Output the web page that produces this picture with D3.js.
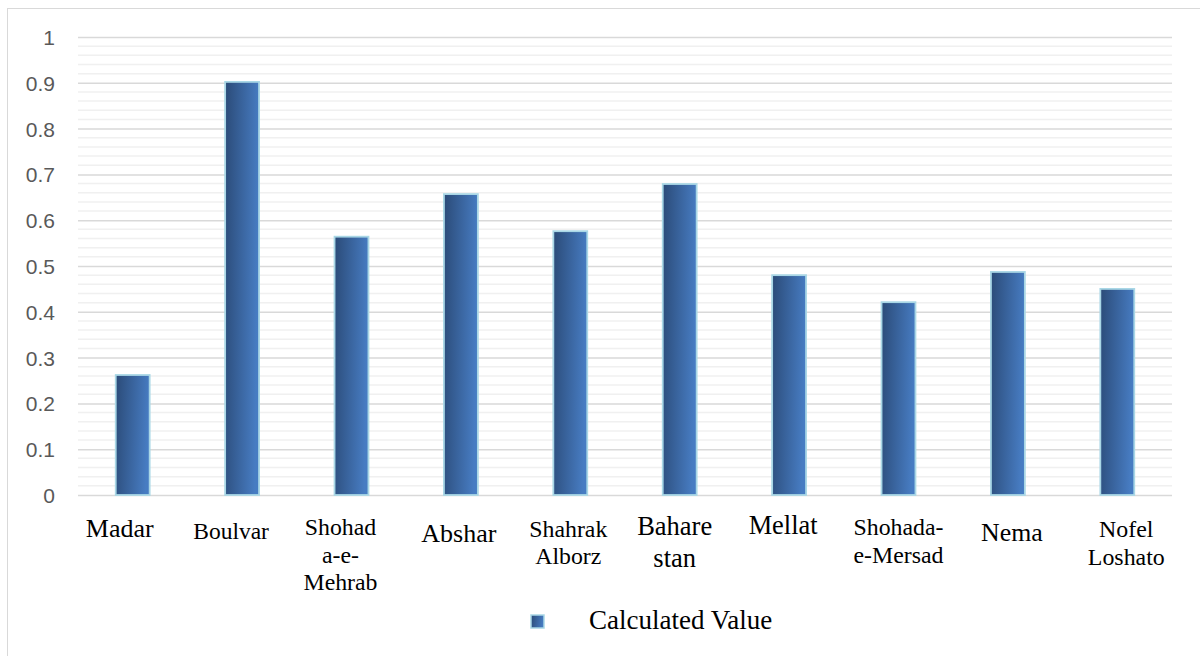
<!DOCTYPE html>
<html>
<head>
<meta charset="utf-8">
<script src="https://cdn.jsdelivr.net/npm/d3@7"></script>
<style>
  body { margin: 0; background: #fff; }
  svg { display: block; }
</style>
</head>
<body>
<div id="chart"></div>
<script>
// data
const categories = ["Madar", "Boulvar", "Shohad\na-e-\nMehrab", "Abshar", "Shahrak\nAlborz",
  "Bahare\nstan", "Mellat", "Shohada-\ne-Mersad", "Nema", "Nofel\nLoshato"]
const values = [0.262, 0.902, 0.564, 0.657, 0.576, 0.679, 0.480, 0.421, 0.487, 0.450]
const yTicks = [0, 0.1, 0.2, 0.3, 0.4, 0.5, 0.6, 0.7, 0.8, 0.9, 1]
const seriesName = "Calculated Value"

// the category labels in the reference sit unevenly: x shift from the bar centre,
// first baseline, font size and line gap for each one
const labelLayout = [
  {dx: -13, y: 537, size: 26,   gap: 28},
  {dx: -11, y: 539, size: 23.5, gap: 28},
  {dx: -11, y: 535, size: 23.8, gap: 27.5},
  {dx: -2,  y: 542, size: 26,   gap: 28},
  {dx: -2,  y: 537, size: 23.8, gap: 27},
  {dx: -5,  y: 535, size: 26.5, gap: 32},
  {dx: -6,  y: 534, size: 26.4, gap: 28},
  {dx: 0,   y: 535, size: 23.8, gap: 28},
  {dx: 4,   y: 541, size: 25.8, gap: 28},
  {dx: 9,   y: 537, size: 23.9, gap: 28}
]

var W = 1200, H = 656
var margin = {top: 37, right: 28, bottom: 161, left: 78},
    width = W - margin.left - margin.right,
    height = H - margin.top - margin.bottom

var svg = d3.select("#chart").append("svg")
  .attr("width", W)
  .attr("height", H)

// chart frame
svg.append("rect")
  .attr("x", 7.5).attr("y", 8.5)
  .attr("width", W + 10).attr("height", H + 10)
  .attr("fill", "#fff")
  .attr("stroke", "#d9d9d9")
  .attr("stroke-width", 1)

var defs = svg.append("defs")
var grad = defs.append("linearGradient")
  .attr("id", "barGrad")
  .attr("x1", 0).attr("y1", 0).attr("x2", 1).attr("y2", 0.15)
grad.append("stop").attr("offset", "0%").attr("stop-color", "#2b4b78")
grad.append("stop").attr("offset", "100%").attr("stop-color", "#477cc2")

var g = svg.append("g")
  .attr("transform", "translate(" + margin.left + "," + margin.top + ")")

var x = d3.scaleBand()
  .domain(categories)
  .range([0, width])
  .paddingInner(0.69)
  .paddingOuter(0.345)

var y = d3.scaleLinear()
  .domain([0, 1])
  .range([height, 0])

// minor gridlines every 0.02
var minor = d3.range(0, 51).map(i => i / 50).filter(v => Math.round(v * 50) % 5 !== 0)
g.selectAll(".minor")
  .data(minor)
  .enter().append("line")
  .attr("x1", 0).attr("x2", width)
  .attr("y1", d => y(d)).attr("y2", d => y(d))
  .attr("stroke", "#f0f0f0")
  .attr("stroke-width", 1.5)

// major gridlines + tick labels
var yAxis = d3.axisLeft(y)
  .tickValues(yTicks)
  .tickSize(-width)
  .tickFormat(d => d3.format("")(+d.toFixed(1)))

var ya = g.append("g").call(yAxis)
ya.select(".domain").remove()
ya.selectAll(".tick line")
  .attr("stroke", "#d9d9d9")
  .attr("stroke-width", 1.5)
ya.selectAll(".tick text")
  .attr("x", -23)
  .attr("dy", "0.36em")
  .attr("fill", "#595959")
  .style("font-family", "'Liberation Sans', Arial, sans-serif")
  .style("font-size", "21px")

// bars
g.selectAll(".bar")
  .data(values)
  .enter().append("rect")
  .attr("class", "bar")
  .attr("x", (d, i) => x(categories[i]))
  .attr("y", d => y(d))
  .attr("width", x.bandwidth())
  .attr("height", d => height - y(d))
  .attr("fill", "url(#barGrad)")
  .attr("stroke", "#a9d7e6")
  .attr("stroke-width", 1.8)

// category labels
var labels = g.selectAll(".xlab")
  .data(categories)
  .enter().append("text")
  .attr("class", "xlab")
  .attr("text-anchor", "middle")
  .attr("fill", "#000")
  .style("font-family", "'Liberation Serif', 'Times New Roman', serif")
  .style("font-size", (d, i) => labelLayout[i].size + "px")

labels.each(function(d, i) {
  var t = d3.select(this), L = labelLayout[i]
  d.split("\n").forEach((line, j) => {
    t.append("tspan")
      .attr("x", x(d) + x.bandwidth() / 2 + L.dx)
      .attr("y", L.y - margin.top + j * L.gap)
      .text(line)
  })
})

// legend
var legend = svg.append("g").attr("transform", "translate(531,615)")
legend.append("rect")
  .attr("width", 13).attr("height", 13)
  .attr("fill", "url(#barGrad)")
  .attr("stroke", "#a9d7e6")
  .attr("stroke-width", 1.5)
legend.append("text")
  .attr("x", 58)
  .attr("y", 14)
  .style("font-family", "'Liberation Serif', 'Times New Roman', serif")
  .style("font-size", "27px")
  .text(seriesName)
</script>
</body>
</html>
